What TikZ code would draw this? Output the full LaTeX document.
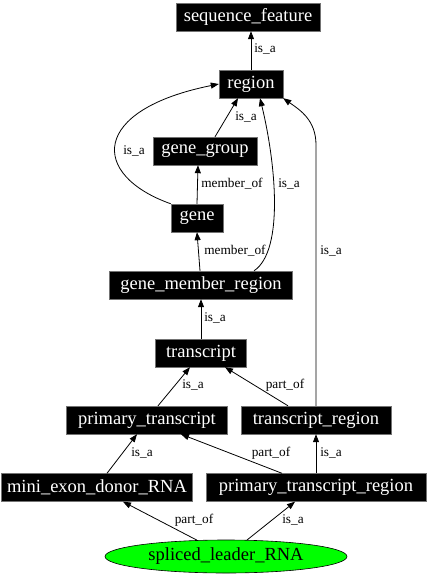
\documentclass[tikz,border=0pt]{standalone}
\usepackage{fontspec}
\setmainfont{Liberation Serif}
\usetikzlibrary{arrows.meta,shapes.geometric}
\tikzset{
  box/.style={fill=black,draw=black!55,line width=0.4pt,text=white,inner sep=0pt,minimum height=28pt,font=\fontsize{18.5}{20}\selectfont},
  oval/.style={ellipse,fill=green,draw=black,line width=0.6pt,inner sep=0pt,minimum width=242pt,minimum height=33pt,font=\fontsize{18.5}{20}\selectfont},
  edge/.style={draw=black,line width=0.8pt,-{Triangle[length=8pt,width=6pt]}},
  lbl/.style={inner sep=0pt,font=\fontsize{13.3}{14}\selectfont}
}
\begin{document}
\begin{tikzpicture}[x=1pt,y=-1pt]
\useasboundingbox (0,0) rectangle (429,576);
% nodes
\node[box,minimum width=144pt] (sf) at (248,17) {sequence\_feature};
\node[box,minimum width=64pt] (region) at (251,84) {region};
\node[box,minimum width=104pt] (gg) at (205,151) {gene\_group};
\node[box,minimum width=52pt] (gene) at (197,218) {gene};
\node[box,minimum width=183pt] (gmr) at (201,285) {gene\_member\_region};
\node[box,minimum width=91pt] (tr) at (201,353) {transcript};
\node[box,minimum width=161pt] (pt) at (147,420) {primary\_transcript};
\node[box,minimum width=150pt] (trr) at (316,420) {transcript\_region};
\node[box,minimum width=191pt] (med) at (97,487.5) {mini\_exon\_donor\_RNA};
\node[box,minimum width=220pt] (ptr) at (316,487.5) {primary\_transcript\_region};
\node[oval] (sl) at (226,556.5) {spliced\_leader\_RNA};
% edges
\draw[edge] (region.north) -- (region.north |- sf.south);
\draw[edge] ([xshift=10pt]gg.north) -- ([xshift=-13pt]region.south);
\draw[edge] (gene.north west) .. controls (90,175) and (90,110) .. (region.west);
\draw[edge] (gene.north) -- ([xshift=-7pt]gg.south);
\draw[edge] ([xshift=-1pt]gmr.north) -- (gene.south);
\draw[edge] ([xshift=53pt]gmr.north) .. controls (285,250) and (275,160) .. ([xshift=9pt]region.south);
\draw[edge] (trr.north) -- (316,145) .. controls (316,120) and (300,110) .. (region.south east);
\draw[edge] (tr.north) -- (gmr.south);
\draw[edge] ([xshift=11pt]pt.north) -- ([xshift=-11pt]tr.south);
\draw[edge] ([xshift=-28pt]trr.north) -- ([xshift=24pt]tr.south);
\draw[edge] ([xshift=10pt]med.north) -- ([xshift=-10pt]pt.south);
\draw[edge] ([xshift=-34pt]ptr.north) -- ([xshift=34pt]pt.south);
\draw[edge] (ptr.north) -- (trr.south);
\draw[edge] ([xshift=-29pt,yshift=-0.5pt]sl.north) -- ([xshift=26pt]med.south);
\draw[edge] ([xshift=21pt,yshift=-0.3pt]sl.north) -- ([xshift=-21pt]ptr.south);
% labels
\node[lbl] (l1) at (265,49) {is\_a};
\node[lbl] (l2) at (246,117) {is\_a};
\node[lbl] (l3) at (134,151) {is\_a};
\node[lbl] (l4) at (232,184) {member\_of};
\node[lbl] (l5) at (289,184) {is\_a};
\node[lbl] (l6) at (235,251) {member\_of};
\node[lbl] (l7) at (331,251) {is\_a};
\node[lbl] (l8) at (215,318) {is\_a};
\node[lbl] (l9) at (193,385) {is\_a};
\node[lbl] (l10) at (285,385) {part\_of};
\node[lbl] (l11) at (142,453) {is\_a};
\node[lbl] (l12) at (271,453) {part\_of};
\node[lbl] (l13) at (331,453) {is\_a};
\node[lbl] (l14) at (194,520) {part\_of};
\node[lbl] (l15) at (293,520) {is\_a};
\end{tikzpicture}
\end{document}
